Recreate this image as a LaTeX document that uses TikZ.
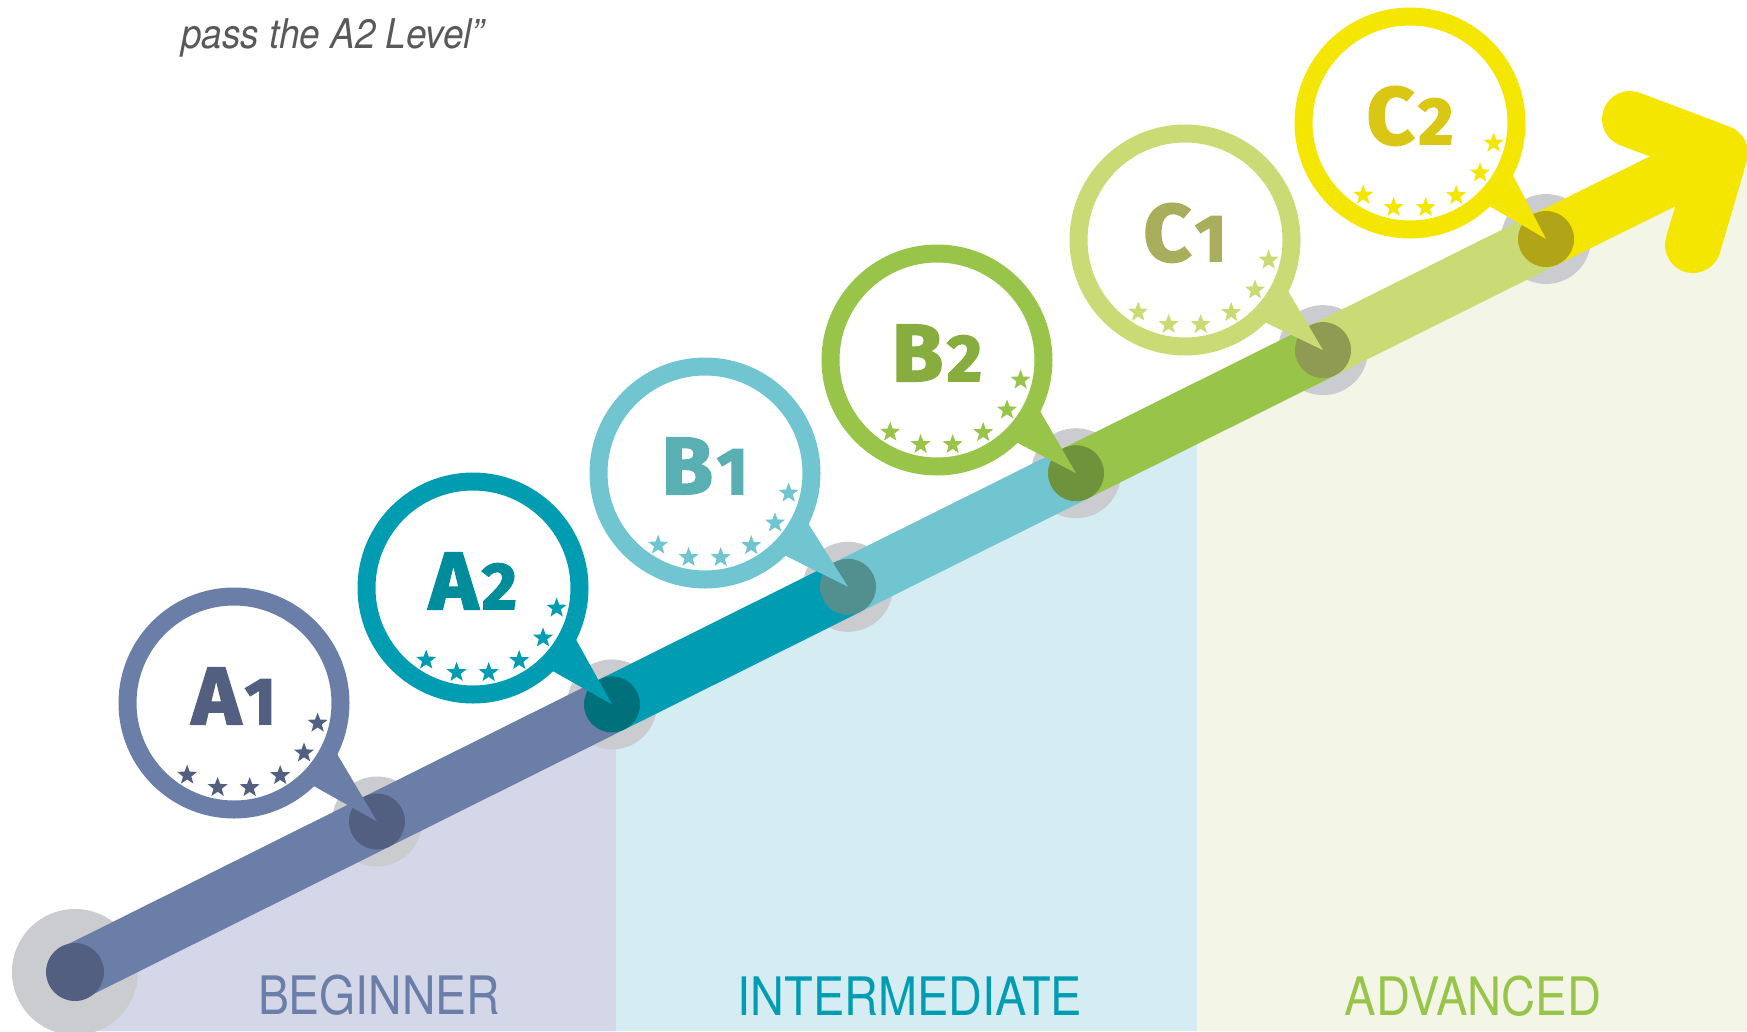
\documentclass[tikz,border=0pt]{standalone}
\usepackage{fontspec}
\setmainfont{TeX Gyre Heros}
\newfontfamily\lvfont[BoldFeatures={FakeBold=2.5}]{Fira Sans}
\usetikzlibrary{shapes.geometric}
\definecolor{ring1}{HTML}{6A7EA8}\definecolor{text1}{HTML}{525F80}\definecolor{star1}{HTML}{525F80}\definecolor{dot1}{HTML}{525F80}
\definecolor{ring2}{HTML}{009DB2}\definecolor{text2}{HTML}{008C9A}\definecolor{star2}{HTML}{009DB2}\definecolor{dot2}{HTML}{00717B}
\definecolor{ring3}{HTML}{70C5D0}\definecolor{text3}{HTML}{5AAFB3}\definecolor{star3}{HTML}{70C5D0}\definecolor{dot3}{HTML}{52908F}
\definecolor{ring4}{HTML}{98C44A}\definecolor{text4}{HTML}{87AD3E}\definecolor{star4}{HTML}{98C44A}\definecolor{dot4}{HTML}{6F923C}
\definecolor{ring5}{HTML}{CADB76}\definecolor{text5}{HTML}{A9AE5C}\definecolor{star5}{HTML}{CADB76}\definecolor{dot5}{HTML}{8F9A52}
\definecolor{ring6}{HTML}{F4E600}\definecolor{text6}{HTML}{DAC614}\definecolor{star6}{HTML}{F4E600}\definecolor{dot6}{HTML}{B1A416}
\definecolor{bgbeg}{HTML}{D3D7E8}\definecolor{bgint}{HTML}{D5ECF2}\definecolor{bgadv}{HTML}{F3F6E6}
\definecolor{grayc}{HTML}{CBCCCF}\definecolor{quotec}{HTML}{58595B}
\newcommand\lvlab[2]{\scalebox{1.02}[1]{#1\kern4pt{\fontsize{66}{66}\selectfont #2}}}
\begin{document}
\begin{tikzpicture}[x=1pt,y=-1pt,
  band/.style={line width=56pt},
  ringline/.style={line width=18pt, fill=white},
  lvstar/.style={star, star points=5, star point ratio=2.4, minimum size=21pt, inner sep=0pt, draw=none},
  lvlabel/.style={anchor=base, inner sep=0pt, font=\lvfont\bfseries\fontsize{81}{81}\selectfont},
  catlabel/.style={anchor=base, inner sep=0pt, font=\fontsize{53}{60}\selectfont}]
\useasboundingbox (0,0) rectangle (1747,1031);
\clip (0,0) rectangle (1747,1031);
% path points
\coordinate (d0) at (75,972);
\coordinate (d1) at (377,821.5);
\coordinate (d2) at (612,704.4);
\coordinate (d3) at (848,586.8);
\coordinate (d4) at (1076,473.2);
\coordinate (d5) at (1323,350.1);
\coordinate (d6) at (1546,239);
\coordinate (tip) at (1720,153);
\coordinate (armU) at (1630,119);
\coordinate (armL) at (1693,245);
% bubble centres
\coordinate (c1) at (234,703);
\coordinate (c2) at (473,588);
\coordinate (c3) at (705,473);
\coordinate (c4) at (937,360);
\coordinate (c5) at (1185,240);
\coordinate (c6) at (1410,123);
% background regions
\fill[bgbeg] (75,1002) -- (616,732.4) -- (616,1031) -- (75,1031) -- cycle;
\fill[bgint] (616,732.4) -- (1197,442.9) -- (1197,1031) -- (616,1031) -- cycle;
\fill[bgadv] (1197,442.9) -- (1747,168.8) -- (1747,1031) -- (1197,1031) -- cycle;
% category labels
\node[catlabel, text=ring1] (beg) at (379,1014) {\scalebox{0.874}[1]{BEGINNER}};
\node[catlabel, text=ring2] (int) at (910,1015) {\scalebox{0.884}[1]{INTERMEDIATE}};
\node[catlabel, text=ring4] (adv) at (1473,1015) {\scalebox{0.89}[1]{ADVANCED}};
% grey discs
\fill[grayc] (d0) circle[radius=63pt];
\foreach \i in {1,...,6} {\fill[grayc] (d\i) circle[radius=45pt];}
% band
\draw[band, ring1] (d0) -- (d2);
\draw[band, ring2] (d2) -- (d3);
\draw[band, ring3] (d3) -- (d4);
\draw[band, ring4] (d4) -- (d5);
\draw[band, ring5] (d5) -- (d6);
\draw[band, ring6] (d6) -- (tip);
\draw[band, ring6, line cap=round, line join=round] (armU) -- (tip) -- (armL);
% dots
\fill[dot1] (d0) circle[radius=29pt];
\foreach \i in {1,...,6} {\fill[dot\i] (d\i) circle[radius=28pt];}
% bubbles
\foreach \i/\la/\lb in {1/A/1,2/A/2,3/B/1,4/B/2,5/C/1,6/C/2} {
  \fill[ring\i] (d\i) -- ([shift={(96,39)}]c\i) -- ([shift={(69,77)}]c\i) -- cycle;
  \draw[ringline, draw=ring\i] (c\i) circle[radius=106.5pt];
  \node[lvlabel, text=text\i] (lab\i) at ([shift={(0,21)}]c\i) {\lvlab{\la}{\lb}};
  \foreach \k/\a in {1/-123,2/-101,3/-79.5,4/-57.5,5/-35.5,6/-13.5} {
    \node[lvstar, fill=star\i] (s\i-\k) at ([shift={(\a:86pt)}]c\i) {};
  }
}
% quote
\node[anchor=base west, inner sep=0pt, text=quotec, font=\itshape\fontsize{41}{48}\selectfont] (quote) at (181,48) {\scalebox{0.9}[1]{pass the A2 Level”}};
\end{tikzpicture}
\end{document}
